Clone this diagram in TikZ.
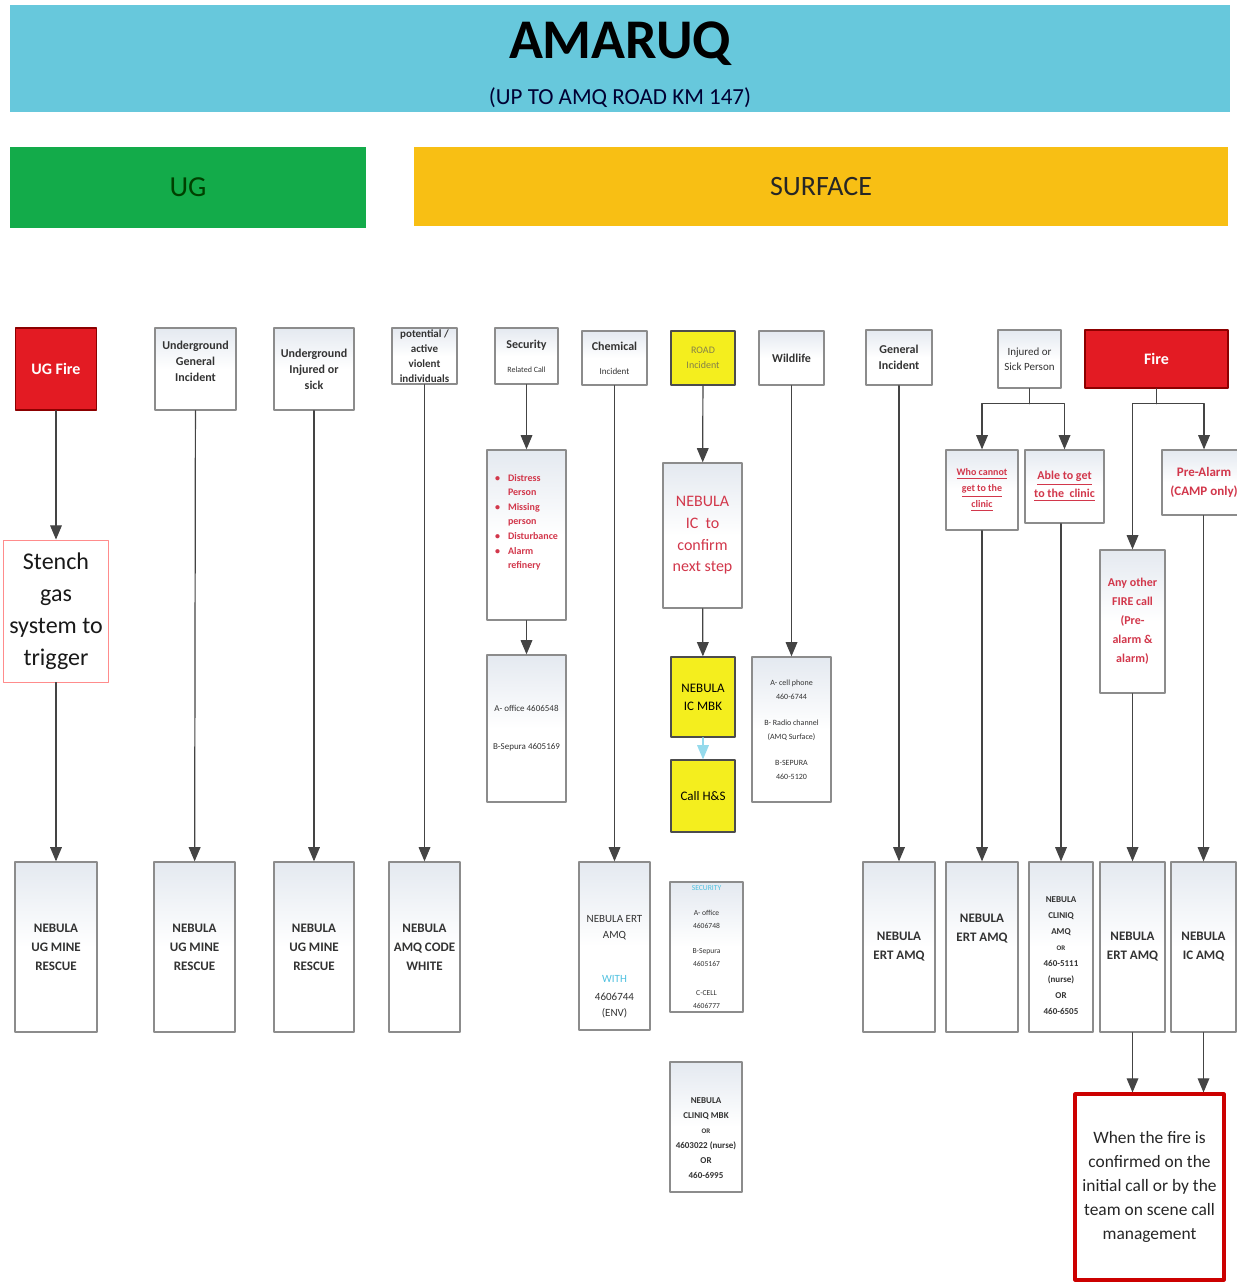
\documentclass[tikz,border=0pt]{standalone}
\usepackage{fontspec}
\setmainfont{Carlito}
\usepackage{tikz}
\usetikzlibrary{arrows}
\definecolor{bandcyan}{HTML}{67C8DC}
\definecolor{uggreen}{HTML}{13AB4A}
\definecolor{surforange}{HTML}{F8BF14}
\definecolor{firered}{HTML}{E31B23}
\definecolor{roadyellow}{HTML}{F4EE1E}
\definecolor{textred}{HTML}{D2374B}
\definecolor{textcyan}{HTML}{4FC1E0}
\definecolor{boxtop}{HTML}{E4E9F0}
\definecolor{linegray}{HTML}{444444}

\begin{document}
\begin{tikzpicture}[line cap=round,line join=round,>=triangle 45,x=0.5pt,y=-0.5pt,
  box/.style={draw=black!45,line width=0.7pt,top color=boxtop,bottom color=white,middle color=white,inner sep=0pt,align=center,text=black!80},
  redbox/.style={draw=red!55!black,line width=0.7pt,fill=firered,inner sep=0pt,align=center,text=white,font=\fontsize{8}{10}\selectfont\bfseries},
  yellowbox/.style={draw=black!70,line width=0.7pt,fill=roadyellow,inner sep=0pt,align=center},
  band/.style={inner sep=0pt,align=center},
  hdr/.style={font=\fontsize{6}{8}\selectfont\bfseries},
  dest/.style={font=\fontsize{6.5}{9.5}\selectfont\bfseries},
  redtxt/.style={text=textred},
  conn/.style={draw=linegray,line width=0.6pt}]
  \useasboundingbox (0,0) rectangle (1236,1288);

  \node[band,fill=bandcyan,minimum width=610pt,minimum height=53.5pt] (top) at (620,58.5) {};
  \node[band,font=\fontsize{28}{30}\selectfont\bfseries] (amaruq) at (620,44) {AMARUQ};
  \node[band,font=\fontsize{11.5}{13}\selectfont,text=black!80!blue] (kmlimit) at (620,98) {(UP TO AMQ ROAD KM 147)};
  \node[band,fill=uggreen,minimum width=178pt,minimum height=40.5pt,font=\fontsize{14.5}{17}\selectfont,text=black!75!green] (ug) at (188,187.5) {UG};
  \node[band,fill=surforange,minimum width=407pt,minimum height=39.5pt,font=\fontsize{14}{17}\selectfont,text=black!85] (surface) at (821,186.5) {SURFACE};

  \node[redbox,minimum width=40.5pt,minimum height=41pt] (ugfire) at (56,369) {UG Fire};
  \node[box,hdr,minimum width=40.5pt,minimum height=41pt] (uggen) at (195.5,369) {Underground\\General\\Incident\\~};
  \node[box,hdr,minimum width=40pt,minimum height=41pt] (ugsick) at (314,369) {Underground\\Injured or\\sick};
  \node[box,font=\fontsize{5.5}{7.5}\selectfont\bfseries,minimum width=32.5pt,minimum height=28pt] (violent) at (424.5,356) {potential /\\active\\violent\\individuals};
  \node[box,minimum width=31.5pt,minimum height=28pt] (security) at (526.5,356) {{\fontsize{6}{7}\selectfont\bfseries Security}\\{\fontsize{4}{6}\selectfont Related Call}};
  \node[box,minimum width=32.5pt,minimum height=27pt] (chemical) at (614.5,358) {{\fontsize{6}{7}\selectfont\bfseries Chemical}\\{\fontsize{4.5}{7}\selectfont Incident}};
  \node[yellowbox,minimum width=32pt,minimum height=27pt,font=\fontsize{5}{7.5}\selectfont,text=black!55!yellow] (road) at (703,358) {ROAD\\Incident};
  \node[box,hdr,minimum width=32.5pt,minimum height=27pt] (wildlife) at (791.5,358) {Wildlife};
  \node[box,hdr,minimum width=33pt,minimum height=27.5pt] (general) at (899,357.5) {General\\Incident};
  \node[box,hdr,font=\fontsize{5.5}{7.5}\selectfont,minimum width=31.5pt,minimum height=29pt] (injured) at (1029.5,359) {Injured or\\Sick Person};
  \node[redbox,minimum width=71.5pt,minimum height=29pt] (fire) at (1156.5,359) {Fire};

  \node[box,draw=red!45,line width=0.5pt,top color=white,font=\fontsize{12}{16}\selectfont,text=black!90,minimum width=52.5pt,minimum height=71pt] (stench) at (56,611) {Stench\\gas\\system to\\trigger};
  \node[box,redtxt,font=\fontsize{5}{7.3}\selectfont\bfseries,minimum width=39.5pt,minimum height=85pt] (bullets) at (526.5,535) {\begin{tabular}{@{}l@{\hspace{4pt}}l@{}}\textbullet & Distress\\ & Person\\ \textbullet & Missing\\ & person\\ \textbullet & Disturbance\\ \textbullet & Alarm\\ & refinery\end{tabular}\\[12pt]~};
  \node[box,redtxt,font=\fontsize{8}{10.8}\selectfont,minimum width=39.5pt,minimum height=72.5pt] (confirm) at (702.5,535.5) {NEBULA\\IC\ \ to\\confirm\\next step};
  \node[box,redtxt,font=\fontsize{5}{8}\selectfont\bfseries,minimum width=36pt,minimum height=40pt] (whocannot) at (982,490) {\underline{Who cannot}\\\underline{get to the}\\\underline{clinic}};
  \node[box,redtxt,font=\fontsize{6}{9}\selectfont\bfseries,minimum width=39.5pt,minimum height=36.5pt] (able) at (1064.5,486.5) {\underline{Able to get}\\\underline{to the\ \ clinic}};
  \node[box,redtxt,font=\fontsize{6.5}{9.5}\selectfont\bfseries,minimum width=42pt,minimum height=32.5pt] (prealarm) at (1204,482.5) {Pre-Alarm\\(CAMP only)};
  \node[box,redtxt,font=\fontsize{6}{9.5}\selectfont\bfseries,minimum width=32.5pt,minimum height=71.5pt] (anyother) at (1132.5,621.5) {Any other\\FIRE call\\(Pre-\\alarm \&\\alarm)};

  \node[box,font=\fontsize{4.5}{7}\selectfont,minimum width=39.5pt,minimum height=73.5pt] (secphones) at (526.5,728.5) {A- office 4606548\\[12pt]B-Sepura 4605169};
  \node[yellowbox,font=\fontsize{6.5}{9}\selectfont,minimum width=32pt,minimum height=40pt] (icmbk) at (703,697) {NEBULA\\IC MBK};
  \node[yellowbox,font=\fontsize{6.5}{9}\selectfont,minimum width=32pt,minimum height=36pt] (callhs) at (703,796) {Call H\&S};
  \node[box,font=\fontsize{4}{7}\selectfont,minimum width=39.5pt,minimum height=72.5pt] (wildphones) at (791.5,729.5) {A- cell phone\\460-6744\\[6pt]B- Radio channel\\(AMQ Surface)\\[6pt]B-SEPURA\\460-5120};

  \node[box,dest,minimum width=41pt,minimum height=85pt] (rescueA) at (56,947) {NEBULA\\UG MINE\\RESCUE};
  \node[box,dest,minimum width=40.5pt,minimum height=85pt] (rescueB) at (194.5,947) {NEBULA\\UG MINE\\RESCUE};
  \node[box,dest,minimum width=40pt,minimum height=85pt] (rescueC) at (314,947) {NEBULA\\UG MINE\\RESCUE};
  \node[box,dest,minimum width=35.5pt,minimum height=85pt] (codewhite) at (424.5,947) {NEBULA\\AMQ CODE\\WHITE};
  \node[box,font=\fontsize{5.5}{8}\selectfont,minimum width=35.5pt,minimum height=84pt] (ertchem) at (614.5,946) {\rule{0pt}{24pt}NEBULA ERT\\AMQ\\[14pt]\textcolor{textcyan}{WITH}\\[1pt]4606744\\(ENV)};
  \node[box,font=\fontsize{3.8}{6.5}\selectfont,minimum width=36.5pt,minimum height=65pt] (secnums) at (706.5,947) {\textcolor{textcyan}{SECURITY}\\[6pt]A- office\\4606748\\[6pt]B-Sepura\\4605167\\[8pt]C-CELL\\4606777};
  \node[box,dest,minimum width=36pt,minimum height=85pt] (ertgen) at (899,947) {NEBULA\\ERT AMQ};
  \node[box,dest,minimum width=36pt,minimum height=85pt] (ertwho) at (982,947) {NEBULA\\ERT AMQ\\[10pt]~};
  \node[box,font=\fontsize{4.5}{8}\selectfont\bfseries,minimum width=32pt,minimum height=85pt] (cliniqamq) at (1061,947) {\rule{0pt}{12pt}NEBULA\\CLINIQ\\AMQ\\\fontsize{3.5}{6}\selectfont OR\\460-5111\\(nurse)\\OR\\460-6505};
  \node[box,dest,minimum width=32.5pt,minimum height=85pt] (ertfire) at (1132.5,947) {NEBULA\\ERT AMQ};
  \node[box,dest,minimum width=32.5pt,minimum height=85pt] (icamq) at (1203.5,947) {NEBULA\\IC AMQ};

  \node[box,font=\fontsize{4.5}{7.5}\selectfont\bfseries,minimum width=36pt,minimum height=65pt] (cliniqmbk) at (706,1127) {\rule{0pt}{14pt}NEBULA\\CLINIQ MBK\\\fontsize{3.5}{6}\selectfont OR\\4603022 (nurse)\\OR\\460-6995};
  \node[draw=red!80!black,line width=1.6pt,fill=white,inner sep=0pt,align=center,font=\fontsize{8.7}{12}\selectfont,text=black!85,minimum width=74.5pt,minimum height=93pt] (whenfire) at (1149.5,1187) {When the fire is\\confirmed on the\\initial call or by the\\team on scene call\\management};

  \draw[conn,->] (ugfire) -- (stench);
  \draw[conn,->] (stench) -- (rescueA);
  \draw[conn,->] (uggen) -- (rescueB);
  \draw[conn,->] (ugsick) -- (rescueC);
  \draw[conn,->] (violent) -- (codewhite);
  \draw[conn,->] (security) -- (bullets);
  \draw[conn,->] (bullets) -- (secphones);
  \draw[conn,->] (chemical) -- (ertchem);
  \draw[conn,->] (road) -- (confirm);
  \draw[conn,->] (confirm) -- (icmbk);
  \draw[conn,->,draw=textcyan!60] (icmbk) -- (callhs);
  \draw[conn,->] (wildlife) -- (wildphones);
  \draw[conn,->] (general) -- (ertgen);
  \draw[conn] (injured.south) -- ++(0,15) coordinate (injsplit);
  \draw[conn,->] (injsplit) -| (whocannot);
  \draw[conn,->] (injsplit) -| (able);
  \draw[conn] (fire.south) -- ++(0,15) coordinate (firesplit);
  \draw[conn,->] (firesplit) -| (anyother);
  \draw[conn,->] (firesplit) -| (prealarm);
  \draw[conn,->] (whocannot) -- (ertwho);
  \draw[conn,->] (able.south -| cliniqamq.north) -- (cliniqamq.north);
  \draw[conn,->] (anyother) -- (ertfire);
  \draw[conn,->] (prealarm.south -| icamq.north) -- (icamq.north);
  \draw[conn,->] (ertfire.south) -- (ertfire.south |- whenfire.north);
  \draw[conn,->] (icamq.south) -- (icamq.south |- whenfire.north);
\end{tikzpicture}
\end{document}
